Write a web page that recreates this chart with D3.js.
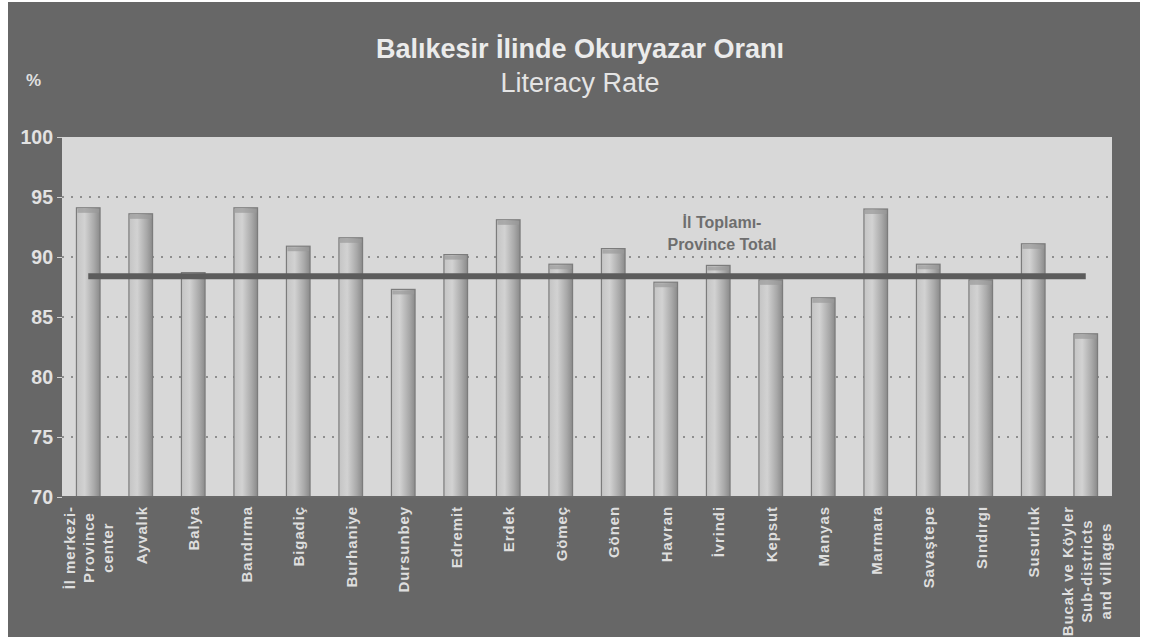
<!DOCTYPE html>
<html>
<head>
<meta charset="utf-8">
<script src="https://cdn.jsdelivr.net/npm/d3@7"></script>
<style>
  body { margin: 0; background: #fff; }
  svg { display: block; font-family: "Liberation Sans", Arial, sans-serif; }
</style>
</head>
<body>
<div id="chart"></div>
<script>
// districts of Balıkesir, label lines per category
const categories = [
  ['İl merkezi-', 'Province', 'center'], ['Ayvalık'], ['Balya'], ['Bandırma'], ['Bigadiç'],
  ['Burhaniye'], ['Dursunbey'], ['Edremit'], ['Erdek'], ['Gömeç'],
  ['Gönen'], ['Havran'], ['İvrindi'], ['Kepsut'], ['Manyas'],
  ['Marmara'], ['Savaştepe'], ['Sındırgı'], ['Susurluk'], ['Bucak ve Köyler', 'Sub-districts', 'and villages']
];
const literacy = [94.1, 93.6, 88.7, 94.1, 90.9, 91.6, 87.3, 90.2, 93.1, 89.4,
  90.7, 87.9, 89.3, 88.1, 86.6, 94.0, 89.4, 88.1, 91.1, 83.6];
const provinceTotal = 88.4;
const yTicks = [70, 75, 80, 85, 90, 95, 100];
const titleTr = 'Balıkesir İlinde Okuryazar Oranı';
const titleEn = 'Literacy Rate';
const totalLabel = ['İl Toplamı-', 'Province Total'];

const W = 1151, H = 641;
const plot = { left: 62, right: 1112, top: 137, bottom: 497 };

const svg = d3.select('#chart').append('svg')
  .attr('width', W)
  .attr('height', H);

const defs = svg.append('defs');
const grad = defs.append('linearGradient').attr('id', 'barGrad')
  .attr('x1', '0%').attr('x2', '100%').attr('y1', '0%').attr('y2', '0%');
grad.append('stop').attr('offset', '0%').attr('stop-color', '#c4c4c4');
grad.append('stop').attr('offset', '35%').attr('stop-color', '#d2d2d2');
grad.append('stop').attr('offset', '75%').attr('stop-color', '#a9a9a9');
grad.append('stop').attr('offset', '100%').attr('stop-color', '#8a8a8a');

// outer dark panel
svg.append('rect')
  .attr('x', 8).attr('y', 2)
  .attr('width', 1132).attr('height', 635)
  .attr('fill', '#676767');

const x = d3.scaleBand()
  .domain(d3.range(categories.length))
  .range([plot.left, plot.right])
  .paddingInner(0.55)
  .paddingOuter(0.275);

const y = d3.scaleLinear()
  .domain([70, 100])
  .range([plot.bottom, plot.top]);

// plot background
svg.append('rect')
  .attr('x', plot.left).attr('y', plot.top)
  .attr('width', plot.right - plot.left).attr('height', plot.bottom - plot.top)
  .attr('fill', '#d8d8d8');

// dotted grid
svg.append('g')
  .selectAll('line')
  .data(yTicks.filter(d => d > 70 && d < 100))
  .join('line')
  .attr('x1', plot.left).attr('x2', plot.right)
  .attr('y1', d => y(d)).attr('y2', d => y(d))
  .attr('stroke', '#8e8e8e')
  .attr('stroke-width', 2)
  .attr('stroke-dasharray', '2,7');

// y axis
const yAxis = svg.append('g')
  .attr('transform', `translate(${plot.left},0)`)
  .call(d3.axisLeft(y).tickValues(yTicks).tickSize(5).tickPadding(4));
yAxis.select('.domain').remove();
yAxis.selectAll('.tick line').attr('stroke', '#cfcfcf');
yAxis.selectAll('.tick text')
  .attr('fill', '#e2e2e2')
  .attr('font-size', 19.5)
  .attr('font-weight', 'bold');

// bars
const bars = svg.append('g');
bars.selectAll('rect.bar')
  .data(literacy)
  .join('rect')
  .attr('class', 'bar')
  .attr('x', (d, i) => x(i))
  .attr('y', d => y(d))
  .attr('width', x.bandwidth())
  .attr('height', d => y(70) - y(d))
  .attr('fill', 'url(#barGrad)')
  .attr('stroke', '#7c7c7c')
  .attr('stroke-width', 1.2);

// bar caps
bars.selectAll('rect.cap')
  .data(literacy)
  .join('rect')
  .attr('class', 'cap')
  .attr('x', (d, i) => x(i) + 1)
  .attr('y', d => y(d) + 1)
  .attr('width', x.bandwidth() - 2)
  .attr('height', 4)
  .attr('fill', '#9a9a9a')
  .attr('opacity', 0.7);

// bottom axis line
svg.append('line')
  .attr('x1', plot.left).attr('x2', plot.right)
  .attr('y1', plot.bottom).attr('y2', plot.bottom)
  .attr('stroke', '#6a6a6a')
  .attr('stroke-width', 2);

// province total line
const first = x(0) + x.bandwidth() / 2;
const last = x(categories.length - 1) + x.bandwidth() / 2;
svg.append('line')
  .attr('x1', first).attr('x2', last)
  .attr('y1', y(provinceTotal)).attr('y2', y(provinceTotal))
  .attr('stroke', '#5c5c5c')
  .attr('stroke-width', 6);

svg.append('text')
  .attr('text-anchor', 'middle')
  .attr('fill', '#6e6e6e')
  .attr('font-size', 16)
  .attr('font-weight', 'bold')
  .selectAll('tspan')
  .data(totalLabel)
  .join('tspan')
  .attr('x', 722)
  .attr('y', (d, i) => 228 + i * 22)
  .text(d => d);

// category labels, rotated; block starts at top, shorter lines centred on the longest
const labelTop = plot.bottom + 9;
const lineGap = 19;
svg.append('g')
  .selectAll('g')
  .data(categories)
  .join('g')
  .attr('transform', (d, i) => `translate(${x(i) + x.bandwidth() / 2},${labelTop}) rotate(-90)`)
  .each(function (lines) {
    const texts = d3.select(this).selectAll('text')
      .data(lines)
      .join('text')
      .attr('fill', '#dedede')
      .attr('font-size', 15)
      .attr('font-weight', 'bold')
      .attr('letter-spacing', 0.9)
      .attr('text-anchor', 'end')
      .attr('y', (t, j) => (j - (lines.length - 1) / 2) * lineGap + 6)
      .text(t => t);
    const lens = [];
    texts.each(function () { lens.push(this.getComputedTextLength()); });
    const maxLen = d3.max(lens);
    texts.attr('x', (t, j) => -(maxLen - lens[j]) / 2);
  });

// titles
svg.append('text')
  .attr('x', 580).attr('y', 58)
  .attr('text-anchor', 'middle')
  .attr('fill', '#ebebeb')
  .attr('font-size', 27)
  .attr('font-weight', 'bold')
  .text(titleTr);

svg.append('text')
  .attr('x', 580).attr('y', 92)
  .attr('text-anchor', 'middle')
  .attr('fill', '#e4e4e4')
  .attr('font-size', 27)
  .text(titleEn);

svg.append('text')
  .attr('x', 26).attr('y', 86)
  .attr('fill', '#e0e0e0')
  .attr('font-size', 17)
  .attr('font-weight', 'bold')
  .text('%');
</script>
</body>
</html>
